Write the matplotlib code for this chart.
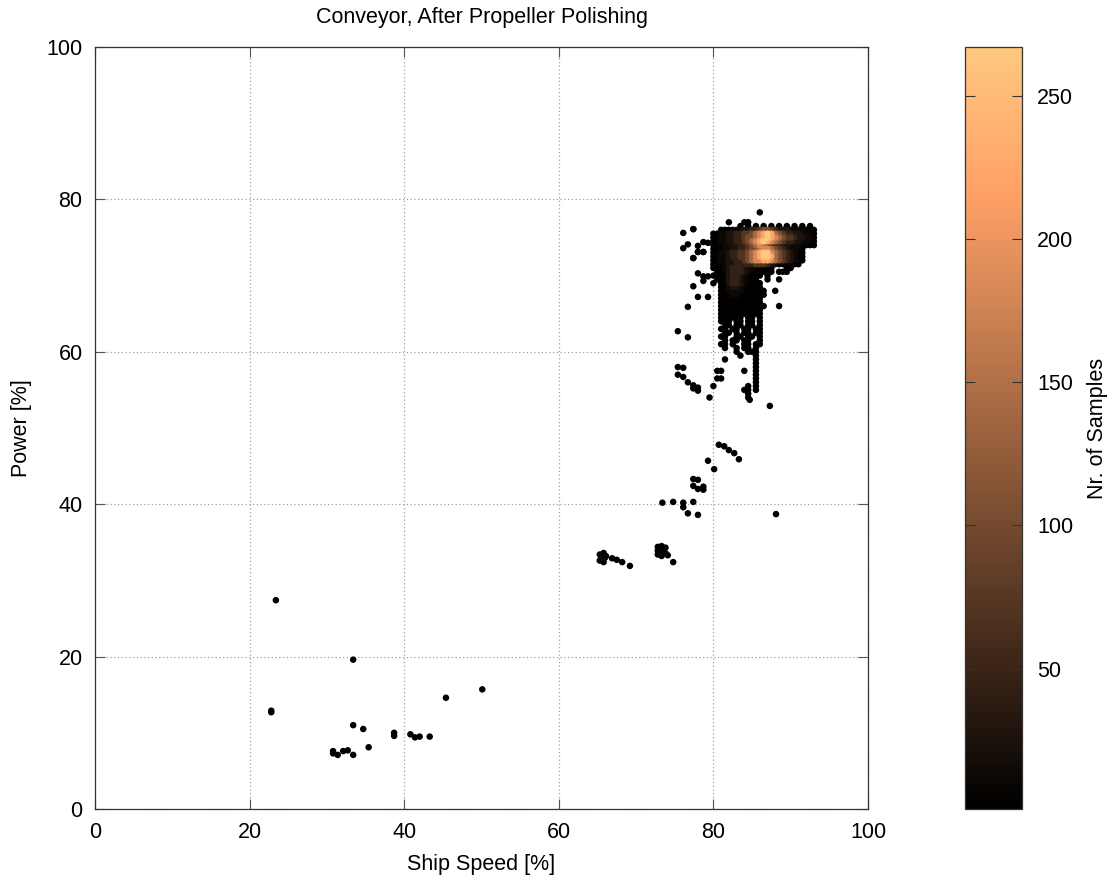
import numpy as np
import matplotlib
matplotlib.use("Agg")
import matplotlib.pyplot as plt

plt.rcParams['font.family'] = ['Liberation Sans', 'DejaVu Sans']
plt.rcParams['font.size'] = 15.5

# isolated samples (speed %, power %), one sample each
single_x = [23.4, 22.8, 22.8, 33.4, 33.4, 34.7, 30.8, 30.8, 31.4, 32.1, 32.7, 33.4,
            35.4, 38.7, 38.7, 40.8, 41.4, 42.0, 43.3, 45.4, 50.1,
            66.1, 66.9, 67.5, 68.2, 69.2, 74.1, 74.8,
            73.4, 74.8, 76.1, 76.1, 77.4, 76.7, 78.0, 88.1,
            77.4, 78.0, 77.4, 78.0, 78.7, 78.7, 79.3, 80.1,
            80.7, 81.4, 82.0, 82.7, 83.3,
            75.4, 76.1, 75.4, 76.1, 76.7, 77.4, 77.4, 78.0, 78.0, 84.7, 87.3,
            76.7, 75.4, 76.7,
            77.4, 78.7, 78.0, 79.3, 78.0, 78.7, 79.3, 78.0, 77.4, 78.7, 77.4,
            76.1, 77.4, 76.7, 76.1, 78.0, 78.7, 79.3, 78.0, 78.7, 77.4, 86.0]
single_y = [27.4, 12.9, 12.7, 19.6, 11.0, 10.5, 7.6, 7.3, 7.1, 7.6, 7.7, 7.1,
            8.1, 10.0, 9.6, 9.8, 9.4, 9.5, 9.5, 14.6, 15.7,
            33.2, 32.9, 32.7, 32.4, 31.9, 33.3, 32.4,
            40.2, 40.3, 40.2, 39.6, 40.3, 38.8, 38.6, 38.7,
            43.3, 43.2, 42.4, 42.0, 42.3, 41.9, 45.7, 44.6,
            47.8, 47.6, 47.1, 46.7, 45.9,
            58.0, 57.9, 57.0, 56.7, 56.0, 55.6, 55.2, 55.3, 54.9, 53.7, 52.9,
            65.9, 62.7, 61.9,
            68.6, 69.3, 67.2, 67.2, 70.3, 69.9, 69.9, 73.1, 72.3, 73.1, 76.1,
            75.6, 76.1, 74.1, 73.6, 73.9, 74.4, 74.3, 73.1, 73.1, 72.3, 78.3]

# small groups that share a bin at 65-66 % and 73 % speed
group_x = [65.3, 65.5, 65.8, 66.0, 65.3, 65.8, 72.8, 72.8, 72.8, 73.3, 73.3, 73.3, 73.8, 73.8]
group_y = [33.4, 32.9, 33.6, 33.0, 32.6, 32.4, 34.4, 33.9, 33.4, 34.5, 33.7, 33.2, 34.3, 33.6]
group_n = [8, 14, 6, 10, 3, 4, 2, 3, 2, 1, 4, 2, 1, 2]

# main operating cluster, 0.5 % bins: rows from 77.0 % power down, columns from 79.5 % speed
cluster_x0 = 79.5
cluster_y0 = 77.0
cluster_step = 0.5
cluster_levels = {'a': 1, 'b': 5, 'c': 12, 'd': 25, 'e': 45, 'f': 70,
                  'g': 100, 'h': 140, 'i': 180, 'j': 220, 'k': 265}
cluster_rows = [
    ".....a...aa.................",
    "........a.a.a.a.a.a.a.a.a.a.",
    "...bbbcccddeefggfedddccccbba",
    ".bbccddeeffghijkjhgfeeddccbb",
    ".bbccddeefgghijkjihgffeddccb",
    ".bbccddeefghijkjihgfeeddccbb",
    ".bbbccddeefghihgfeeddcccbbaa",
    ".aabccddeefgghiihgfedccba...",
    ".abccdeeffghijkkihgfedcba...",
    ".abccdeeffghijkkjhgfedcba...",
    ".abccddeefghiijjihgfedcba...",
    ".abbcddeeeeefffedcbaaaaa....",
    ".aabcdeeedccbbbaa...aa......",
    "..aabdeeedcbbaaaa.aaa.......",
    ".aaabdeedcbaaa.a............",
    "..aabdeedcbaa..a..a.........",
    ".a.abdeedcbaaa..............",
    "...abcddcbaaaa..............",
    "...abccccbaaaaa..a..........",
    "...aabccbaaaaaa.............",
    "...aabbbaaaaaa..............",
    "...aaabbaaaaaa..............",
    "...aaaaaaaaaaaa...a.........",
    "...aaaaaaaaaaa..............",
    "...aaaaaaaaaaa..............",
    "...aaaaaa.aa.a..............",
    "...aaa.aa.aa.a..............",
    "....aa.aa.aa.a..............",
    "...aa.aa.aa.aa..............",
    "....aa.a.aa.aa..............",
    "...aa..aa.aa.a..............",
    "....a.aa.aa..a..............",
    "...aa.a..aa.aa..............",
    "....a..a.aa.a...............",
    ".......a..aaa...............",
    "........a...a...............",
    "....a.......a...............",
    "............a...............",
    "............a...............",
    "..aa.....a..a...............",
    "............a...............",
    "..aa........a...............",
    "............a...............",
    ".a........a.a...............",
    ".........aa.a...............",
    "..........a.................",
    "a.........a.................",
]

xs = list(single_x) + list(group_x)
ys = list(single_y) + list(group_y)
ns = [1] * len(single_x) + list(group_n)
for i, row in enumerate(cluster_rows):
    for j, ch in enumerate(row):
        if ch in cluster_levels:
            xs.append(cluster_x0 + j * cluster_step)
            ys.append(cluster_y0 - i * cluster_step)
            ns.append(cluster_levels[ch])

xs = np.array(xs)
ys = np.array(ys)
ns = np.array(ns)
order = np.argsort(ns, kind='stable')

fig = plt.figure(figsize=(11.17, 8.83), dpi=100)
ax = fig.add_axes([95 / 1117, 74 / 883, 773 / 1117, 762 / 883])
cax = fig.add_axes([965 / 1117, 74 / 883, 57 / 1117, 762 / 883])

sc = ax.scatter(xs[order], ys[order], c=ns[order], cmap='copper', vmin=1, vmax=267,
                s=22, linewidths=0, zorder=3)

ax.set_xlim(0, 100)
ax.set_ylim(0, 100)
ax.set_xticks(np.arange(0, 101, 20))
ax.set_yticks(np.arange(0, 101, 20))
ax.grid(True, color='#a0a0a0', linestyle=(0, (1, 2)), linewidth=0.9, zorder=0)
ax.tick_params(direction='in', top=True, right=True, length=7, width=0.8,
               color='#555555', pad=9)
for sp in ax.spines.values():
    sp.set_color('#333333')
    sp.set_linewidth(0.9)
ax.set_xlabel('Ship Speed [%]', labelpad=8)
ax.set_ylabel('Power [%]', labelpad=10)
ax.set_title('Conveyor, After Propeller Polishing', fontsize=15.5, pad=17)

cb = fig.colorbar(sc, cax=cax)
cb.set_ticks([50, 100, 150, 200, 250])
cax.tick_params(direction='in', left=True, right=True, length=7, width=0.8,
                color='#333333', pad=11)
cb.outline.set_edgecolor('#333333')
cb.outline.set_linewidth(0.9)
cb.set_label('Nr. of Samples', labelpad=10)

fig.savefig('out.png', dpi=100)
